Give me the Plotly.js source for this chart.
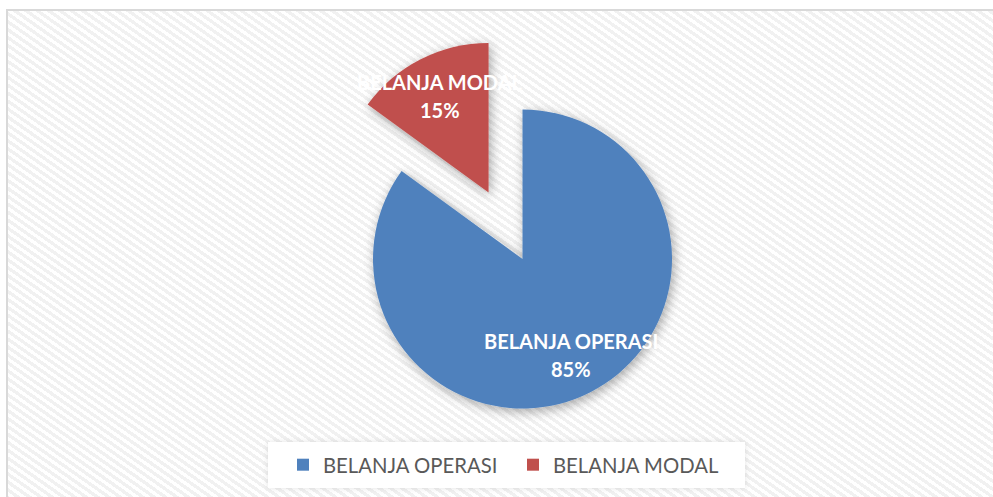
<!DOCTYPE html>
<html>
<head>
<meta charset="utf-8">
<script src="https://cdn.plot.ly/plotly-3.0.1.min.js"></script>
<style>
  html, body { margin: 0; padding: 0; background: #ffffff; }
  #wrap { position: relative; width: 993px; height: 497px; overflow: hidden; background: #ffffff; }
  #frame {
    position: absolute; left: 6px; top: 9px; width: 1100px; height: 600px;
    border: 2px solid #d9d9d9; box-sizing: border-box;
    background: repeating-linear-gradient(35deg, #ffffff 0px, #ffffff 3.2px, #f1f1f1 3.2px, #f1f1f1 6.5px);
  }
  #chart { position: absolute; left: 0; top: 0; width: 993px; height: 497px; }
  #chart .pielayer { filter: url(#pieShadow); }
  #chart .shapelayer path { filter: url(#boxShadow); }
</style>
</head>
<body>
<svg width="0" height="0" style="position:absolute">
  <defs>
    <filter id="pieShadow" x="-20%" y="-20%" width="140%" height="140%">
      <feGaussianBlur in="SourceAlpha" stdDeviation="6"/>
      <feOffset dx="2" dy="3" result="b"/>
      <feComponentTransfer><feFuncA type="linear" slope="0.35"/></feComponentTransfer>
      <feMerge><feMergeNode/><feMergeNode in="SourceGraphic"/></feMerge>
    </filter>
    <filter id="boxShadow" x="-10%" y="-40%" width="120%" height="180%">
      <feGaussianBlur in="SourceAlpha" stdDeviation="3"/>
      <feComponentTransfer><feFuncA type="linear" slope="0.12"/></feComponentTransfer>
      <feMerge><feMergeNode/><feMergeNode in="SourceGraphic"/></feMerge>
    </filter>
  </defs>
</svg>
<div id="wrap">
  <div id="frame"></div>
  <div id="chart"></div>
</div>
<script>
// ---- data ----
var categories = ["BELANJA OPERASI", "BELANJA MODAL"];
var values = [85, 15];
var colors = ["#4F81BD", "#C0504D"];
var pulls = [0, 0.5];

// ---- geometry helpers (same formula Plotly uses to size a pie) ----
var W = 993, H = 497;
var domX = [0.2262, 0.8262];
var domY = [0.0277, 0.9301];
var maxPull = Math.max.apply(null, pulls);
var boxW = W * (domX[1] - domX[0]);
var boxH = H * (domY[1] - domY[0]);
var R = Math.min(boxW, boxH) / (2 + 2 * maxPull);
var CX = W * (domX[0] + domX[1]) / 2;
var CY = H * (1 - domY[0]) - boxH / 2;

var total = values.reduce(function (a, b) { return a + b; }, 0);
var labelFont = { family: "Lato, 'Open Sans', sans-serif", size: 20, color: "#ffffff" };
var annotations = [];
var cum = 0;
for (var i = 0; i < values.length; i++) {
  var mid = (cum + values[i] / 2) / total * 2 * Math.PI; // clockwise from 12 o'clock
  cum += values[i];
  var d = R * (pulls[i] + 0.72);
  var px = CX + d * Math.sin(mid);
  var py = CY - d * Math.cos(mid);
  var base = {
    xref: "paper", yref: "paper",
    x: px / W, y: 1 - py / H,
    xanchor: "center", yanchor: "middle",
    showarrow: false, font: labelFont
  };
  annotations.push(Object.assign({}, base, { text: "<b>" + categories[i] + "</b>", yshift: 14 }));
  annotations.push(Object.assign({}, base, { text: "<b>" + Math.round(values[i] / total * 100) + "%</b>", yshift: -14 }));
}

var trace = {
  type: "pie",
  labels: categories,
  values: values,
  pull: pulls,
  sort: false,
  direction: "clockwise",
  rotation: 0,
  textinfo: "none",
  hoverinfo: "label+percent",
  marker: { colors: colors, line: { width: 0 } },
  domain: { x: domX, y: domY }
};

var layout = {
  width: W, height: H,
  margin: { l: 0, r: 0, t: 0, b: 0 },
  paper_bgcolor: "rgba(0,0,0,0)",
  plot_bgcolor: "rgba(0,0,0,0)",
  showlegend: true,
  legend: {
    orientation: "h",
    x: 283 / W, xanchor: "left",
    y: 1 - 465 / H, yanchor: "middle",
    bgcolor: "rgba(0,0,0,0)",
    font: { family: "Lato, 'Open Sans', sans-serif", size: 20.3, color: "#595959" },
    entrywidth: 185,
    entrywidthmode: "pixels",
    traceorder: "normal"
  },
  shapes: [{
    type: "rect", xref: "paper", yref: "paper", layer: "below",
    x0: 268 / W, x1: 745 / W, y0: 1 - 488 / H, y1: 1 - 442 / H,
    fillcolor: "#ffffff", line: { width: 0 }
  }],
  annotations: annotations
};

Plotly.newPlot("chart", [trace], layout, { displayModeBar: false, staticPlot: true });
</script>
</body>
</html>
